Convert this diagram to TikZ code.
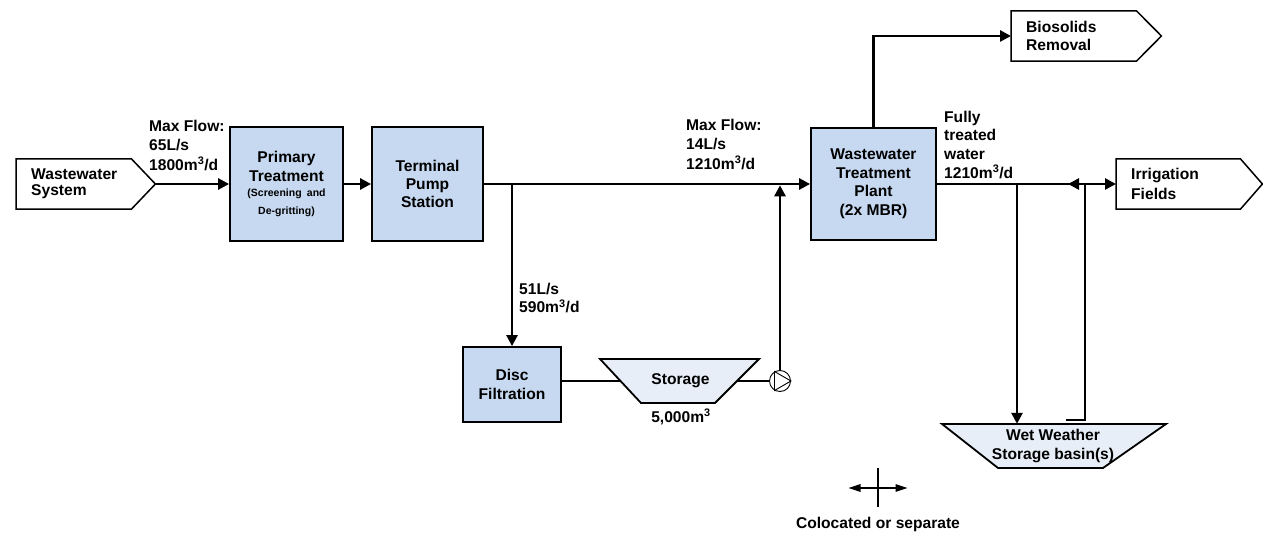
\documentclass[tikz,border=0pt]{standalone}
\usepackage{fontspec}
\setmainfont{Liberation Sans}
\usetikzlibrary{arrows.meta,calc}
\definecolor{boxblue}{RGB}{198,217,241}
\definecolor{tankfill}{RGB}{232,238,247}
\tikzset{
  txt/.style={font=\bfseries\fontsize{15.6}{#1}\selectfont},
  txt/.default=18.5,
  lbl/.style={txt=#1, inner sep=0pt, align=left, anchor=north west},
  lbl/.default=18.7,
  procbox/.style={draw=black, line width=1.8pt, fill=boxblue, align=center, inner sep=0pt},
  pentnode/.style={inner xsep=15pt, inner ysep=0pt, minimum height=50pt, align=left, anchor=west},
  pentline/.style={draw=black, line width=1.5pt, line join=miter},
  flow/.style={line width=2.6pt},
  arr/.style={flow, -{Triangle[length=11pt,width=11pt]}},
  tank/.style={draw=black, line width=1.8pt, fill=tankfill, line join=miter},
  legline/.style={line width=1.3pt},
}
\begin{document}
\begin{tikzpicture}[x=1pt,y=-1pt,txt]
\useasboundingbox (0,0) rectangle (1263,534);

% input / output pentagons
\node[pentnode, text width=109pt, txt=15.5] (ws) at (16,184) {Wastewater\\System};
\draw[pentline] (ws.north west) -- ([xshift=-24pt]ws.north east) -- (ws.east) -- ([xshift=-24pt]ws.south east) -- (ws.south west) -- cycle;
\node[pentnode, text width=120pt, txt=18] (bio) at (1011,36) {Biosolids\\Removal};
\draw[pentline] (bio.north west) -- ([xshift=-25pt]bio.north east) -- (bio.east) -- ([xshift=-25pt]bio.south east) -- (bio.south west) -- cycle;
\node[pentnode, text width=116pt, txt=19.5] (irr) at (1116,184) {Irrigation\\Fields};
\draw[pentline] (irr.north west) -- ([xshift=-22pt]irr.north east) -- (irr.east) -- ([xshift=-22pt]irr.south east) -- (irr.south west) -- cycle;

% process boxes
\node[procbox, minimum width=113pt, minimum height=114pt, txt=19] (pt) at (286.5,184)
  {Primary\\Treatment\\[-3.8pt]{\fontsize{10.5}{12}\selectfont (Screening\enspace and}\\[-1pt]{\fontsize{10.5}{12}\selectfont De-gritting)}};
\node[procbox, minimum width=111pt, minimum height=114pt, txt=18] (tps) at (427.5,184) {Terminal\\Pump\\Station};
\node[procbox, minimum width=98pt, minimum height=75pt, txt=19] (df) at (512,384.5) {Disc\\Filtration};
\node[procbox, minimum width=125pt, minimum height=112pt, txt=18.5] (wtp) at (873.5,184) {Wastewater\\Treatment\\Plant\\(2x MBR)};

% storage tanks
\draw[tank] (600,359) -- (759,359) -- (715,403) -- (641,403) -- cycle;
\node[minimum width=159pt, minimum height=44pt, inner sep=0pt] (st) at (680.5,381) {Storage};
\node (stcap) at (681,417) {5,000m\textsuperscript{3}};
\draw[tank] (942,424) -- (1166,424) -- (1103,468) -- (998,468) -- cycle;
\node[minimum width=224pt, minimum height=44pt, inner sep=0pt, align=center, txt=19] (bs) at (1053,446) {Wet Weather\\Storage basin(s)};

% pump
\node[circle, draw=black, line width=0.9pt, minimum size=21pt, inner sep=0pt] (pump) at (780,381) {};
\draw[line width=0.9pt, line join=miter] (pump.120) -- (pump.0) -- (pump.240) -- cycle;

% flow labels
\node[lbl=19.5] (l1) at (149,119.5) {Max Flow:\\65L/s\\1800m\textsuperscript{3}/d};
\node[lbl=19.5] (l2) at (686,118.5) {Max Flow:\\14L/s\\1210m\textsuperscript{3}/d};
\node[lbl=18.5] (l3) at (519,282.5) {51L/s\\590m\textsuperscript{3}/d};
\node[lbl=18.7] (l4) at (944,110.5) {Fully\\treated\\water\\1210m\textsuperscript{3}/d};

% connectors
\draw[arr] (ws.east) -- (pt.west);
\draw[arr] (pt.east) -- (tps.west);
\draw[arr] (tps.east) -- (wtp.west);
\coordinate (br) at (tps.east -| df.north);
\draw[arr] (br) -- (df.north);
\draw[flow] (df.east |- st.center) -- ([xshift=19.5pt]st.west);
\draw[flow] ([xshift=-23pt]st.east) -- (pump.west);
\draw[arr, shorten >=1.3pt] (pump.north) -- (pump.north |- tps.east);
\draw[arr] (wtp.north) |- (bio.west);
\draw[arr] (wtp.east) -- (irr.west);
\coordinate (j1) at (1017,184);
\coordinate (sep) at (1085,184);
\coordinate (ret) at (1066,420);
\draw[arr] (j1) -- (j1 |- bs.north);
\draw[flow] (ret) -| (sep);
\draw[arr] ([xshift=1pt]sep) -- ([xshift=-17pt]sep);

% legend
\coordinate (lg) at (878,488);
\draw[legline, {Triangle[length=12pt,width=7.5pt]}-{Triangle[length=12pt,width=7.5pt]}] ($(lg)+(-29.5,0)$) -- ($(lg)+(29.5,0)$);
\draw[legline] ($(lg)+(0,-20)$) -- ($(lg)+(0,19)$);
\node (lgt) at (878,524) {Colocated or separate};
\end{tikzpicture}
\end{document}
